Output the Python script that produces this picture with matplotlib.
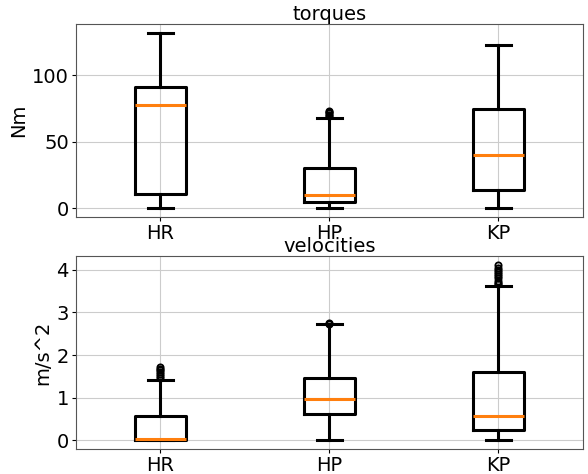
import matplotlib.pyplot as plt

joints = ['HR', 'HP', 'KP']

# torques (Nm): box stats
torque_whislo = [0, 0, 0]
torque_q1 = [11, 5, 14]
torque_med = [78, 10, 40]
torque_q3 = [91, 30, 75]
torque_whishi = [132, 68, 123]
torque_fliers = [[], [69.5, 70.5, 71.5, 72.5, 73.0], []]

# velocities (m/s^2)
vel_whislo = [0, 0, 0]
vel_q1 = [0.0, 0.62, 0.25]
vel_med = [0.02, 0.97, 0.57]
vel_q3 = [0.57, 1.47, 1.6]
vel_whishi = [1.41, 2.72, 3.63]
vel_fliers = [[1.46, 1.5, 1.55, 1.6, 1.64, 1.68, 1.71],
              [2.74, 2.76],
              [3.66, 3.7, 3.75, 3.8, 3.85, 3.9, 3.95, 4.0, 4.05, 4.12]]


def make_stats(lo, q1, med, q3, hi, fliers):
    stats = []
    for i in range(len(joints)):
        stats.append(dict(label=joints[i], whislo=lo[i], q1=q1[i], med=med[i],
                          q3=q3[i], whishi=hi[i], fliers=fliers[i]))
    return stats


fig, (ax1, ax2) = plt.subplots(2, 1, figsize=(5.88, 4.74), dpi=100)
plt.subplots_adjust(left=0.129, right=0.9915, top=0.9494, bottom=0.0527, hspace=0.202)

lw = 2.2
props = dict(
    boxprops=dict(linewidth=lw, color='black'),
    whiskerprops=dict(linewidth=lw, color='black'),
    capprops=dict(linewidth=lw, color='black'),
    medianprops=dict(linewidth=lw, color='#ff7f0e'),
    flierprops=dict(marker='o', markersize=4.5, markerfacecolor='none',
                    markeredgecolor='black', markeredgewidth=1.3),
)

ax1.bxp(make_stats(torque_whislo, torque_q1, torque_med, torque_q3,
                   torque_whishi, torque_fliers), **props)
ax2.bxp(make_stats(vel_whislo, vel_q1, vel_med, vel_q3,
                   vel_whishi, vel_fliers), **props)

ax1.set_title('torques', fontsize=14, pad=2)
ax2.set_title('velocities', fontsize=14, pad=2)
ax1.set_ylabel('Nm', fontsize=14, labelpad=3)
ax2.set_ylabel('m/s^2', fontsize=14, labelpad=3)
ax1.set_yticks([0, 50, 100])
ax2.set_yticks([0, 1, 2, 3, 4])

for ax in (ax1, ax2):
    ax.tick_params(labelsize=14, length=3, pad=2)
    ax.grid(True, color='#cccccc', linewidth=0.8)
    ax.set_axisbelow(True)
    for s in ax.spines.values():
        s.set_color('#555555')

fig.savefig('out.png')
